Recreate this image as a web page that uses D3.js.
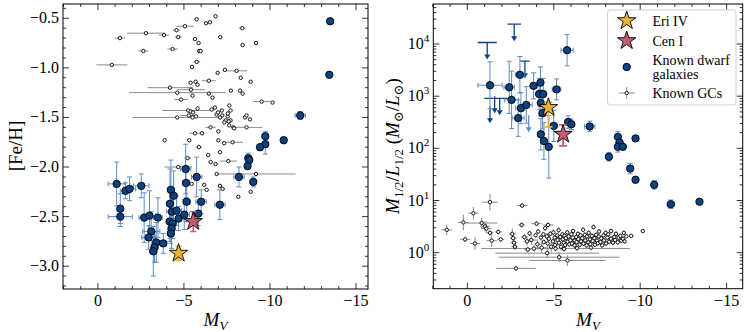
<!DOCTYPE html>
<html>
<head>
<meta charset="utf-8">
<script src="https://cdn.jsdelivr.net/npm/d3@7"></script>
<style>
  body { margin: 0; background: #fff; }
  svg text { font-family: "Liberation Serif", "DejaVu Serif", serif; fill: #000; }
</style>
</head>
<body>
<div id="chart"></div>
<script>
// ---- data ----
// left panel: [M_V, [Fe/H], xerr, yerr]
var dwarfFeH = [
  [-1.09, -2.17, 0.5, 0.22], [-1.60, -2.24, 0.3, 0.08], [-1.84, -2.22, 0.35, 0.12],
  [-2.52, -2.19, 0.45, 0.12], [-1.30, -2.42, 0.15, 0.15], [-1.30, -2.50, 0.7, 0.1],
  [-2.69, -2.51, 0.3, 0.25], [-3.00, -2.49, 0.35, 0.25], [-3.49, -2.51, 0.25, 0.2],
  [-3.10, -2.65, 0.5, 0.2], [-2.95, -2.71, 0.4, 0.12], [-3.39, -2.76, 0.2, 0.2],
  [-3.29, -2.81, 0.2, 0.15], [-3.22, -2.85, 0.2, 0.25], [-3.80, -2.77, 0.2, 0.1],
  [-4.24, -2.23, 0.2, 0.3], [-4.40, -2.29, 0.2, 0.25], [-4.19, -2.37, 0.2, 0.35],
  [-4.30, -2.45, 0.3, 0.2], [-4.57, -2.44, 0.3, 0.15], [-4.69, -2.52, 0.3, 0.12],
  [-5.02, -2.48, 0.3, 0.15], [-4.17, -2.55, 0.2, 0.2], [-4.34, -2.57, 0.2, 0.15],
  [-4.28, -2.62, 0.2, 0.2], [-4.24, -2.67, 0.2, 0.1], [-5.10, -2.02, 0.3, 0.25],
  [-5.12, -2.16, 0.2, 0.15], [-5.74, -2.10, 0.3, 0.2], [-5.16, -2.35, 0.2, 0.2],
  [-6.00, -2.35, 0.3, 0.12], [-5.83, -2.47, 0.2, 0.12], [-7.09, -2.38, 0.3, 0.15],
  [-8.20, -2.10, 0.3, 0.1], [-9.03, -2.15, 0.1, 0.05], [-8.74, -1.91, 0.1, 0.05],
  [-8.80, -1.93, 0.1, 0.03], [-8.70, -1.99, 0.1, 0.03], [-9.73, -1.69, 0.1, 0.05],
  [-9.73, -1.77, 0.1, 0.1], [-9.42, -1.80, 0.1, 0.03], [-10.8, -1.73, 0.1, 0.03],
  [-11.76, -1.48, 0.3, 0.04], [-13.45, -1.07, 0.05, 0.02], [-13.50, -0.53, 0.05, 0.02]
];

// left panel GCs: [M_V, [Fe/H], xerr]
var gcFeH = [
  [-1.28, -0.70, 0.3], [-2.79, -0.65, 1.1], [-3.84, -0.67, 0.3], [-2.64, -0.83, 0.3],
  [-4.34, -0.81, 0.3], [-0.81, -0.97, 0.9], [-4.57, -0.62, 0.2], [-4.67, -0.69, 0.2],
  [-5.06, -0.58, 0.5], [-5.74, -0.51, 0.1], [-5.64, -0.71, 0.1], [-5.85, -0.75, 0.1],
  [-5.89, -0.83, 0.1], [-5.74, -0.94, 0.2], [-5.47, -0.99, 0.1], [-5.39, -1.15, 0.1],
  [-5.68, -1.14, 0.1], [-5.79, -1.17, 0.1], [-4.19, -1.20, 1.3], [-4.61, -1.25, 2.8],
  [-5.41, -1.22, 0.8], [-4.84, -1.32, 0.4], [-5.25, -1.43, 1.5], [-5.39, -1.44, 0.2],
  [-5.79, -1.41, 0.1], [-4.61, -1.50, 2.6], [-5.29, -1.48, 0.5], [-5.50, -1.50, 0.2],
  [-5.64, -1.66, 0.3], [-3.88, -1.73, 0], [-5.31, -1.73, 0.1], [-5.87, -1.80, 0.2],
  [-5.21, -1.91, 0.2], [-4.67, -2.00, 0.8], [-6.28, -0.55, 0.1], [-6.51, -0.54, 0.1],
  [-6.84, -0.48, 0.1], [-8.39, -0.60, 0.2], [-7.11, -0.69, 0.1], [-5.97, -0.83, 0.1],
  [-8.41, -0.77, 0.1], [-9.19, -0.75, 0.1], [-6.96, -1.05, 0.1], [-7.38, -1.02, 0.1],
  [-8.06, -1.03, 0.6], [-8.30, -1.10, 0.1], [-8.88, -1.14, 0.1], [-6.45, -1.13, 0.4],
  [-7.73, -1.23, 0.1], [-8.26, -1.23, 0.1], [-8.41, -1.26, 0.1], [-6.45, -1.26, 0.1],
  [-6.66, -1.30, 0.1], [-9.52, -1.34, 0.5], [-10.15, -1.35, 0.1], [-7.64, -1.38, 0.1],
  [-6.61, -1.42, 0.1], [-6.80, -1.40, 0.1], [-7.71, -1.43, 0.1], [-6.90, -1.47, 0.1],
  [-7.23, -1.48, 0.1], [-7.54, -1.49, 0.1], [-7.42, -1.53, 0.1], [-7.71, -1.53, 0.1],
  [-8.55, -1.50, 0.1], [-8.64, -1.48, 0.1], [-8.84, -1.52, 0.1], [-7.63, -1.58, 0.1],
  [-7.87, -1.60, 0.1], [-8.64, -1.60, 0.9], [-6.55, -1.60, 0.3], [-6.05, -1.66, 0.1],
  [-7.00, -1.73, 0.1], [-7.34, -1.76, 0.1], [-7.83, -1.75, 0.6], [-7.09, -1.85, 0.1],
  [-6.41, -1.88, 0.1], [-6.55, -1.95, 0.1], [-6.84, -1.97, 0.1], [-7.58, -1.94, 0.5],
  [-6.90, -2.07, 0.1], [-9.19, -2.07, 2.3], [-5.45, -2.17, 0.1], [-6.18, -2.18, 0.1],
  [-6.32, -2.23, 0.1], [-7.09, -2.19, 0.1], [-7.25, -2.22, 0.1], [-8.16, -2.30, 0],
  [-8.88, -2.25, 0], [-7.35, -1.55, 0.1], [-7.55, -1.46, 0.1], [-7.10, -1.50, 0.1],
  [-6.98, -1.45, 0.1], [-7.20, -1.43, 0.1], [-7.60, -1.54, 0.1], [-5.53, -1.45, 0.1],
  [-5.70, -1.49, 0.1], [-7.00, -1.64, 0.1], [-7.92, -1.61, 0.1], [-5.50, -1.28, 0.1]
];

// right panel dwarfs: [M_V, M/L, xerr, yerr (dex)]
var dwarfML = [
  [-1.31, 1620, 0.7, 0.45], [-2.42, 1480, 0.3, 0.5], [-2.56, 850, 0.4, 0.55],
  [-3.04, 2570, 0.25, 0.35], [-3.10, 590, 0.3, 0.3], [-3.41, 680, 0.35, 0.35],
  [-2.94, 380, 0.35, 0.35], [-3.83, 1580, 0.2, 0.25], [-4.23, 1820, 0.15, 0.3],
  [-4.15, 1100, 0.1, 0.3], [-4.39, 1100, 0.1, 0.3], [-5.16, 1350, 0.25, 0.2],
  [-5.77, 7600, 0.35, 0.3], [-4.35, 470, 0.2, 0.3], [-4.25, 740, 0.15, 0.25],
  [-4.25, 186, 0.15, 0.3], [-4.43, 138, 0.15, 0.35], [-4.71, 107, 0.15, 0.6],
  [-5.00, 270, 0.2, 0.3], [-5.83, 320, 0.15, 0.12], [-6.02, 290, 0.15, 0.1],
  [-7.08, 263, 0.3, 0.1], [-8.71, 166, 0.1, 0.1], [-8.81, 129, 0.1, 0.1],
  [-8.71, 107, 0.1, 0.1], [-9.00, 107, 0.1, 0.05], [-9.73, 155, 0.05, 0.05],
  [-8.19, 69, 0.05, 0.08], [-9.42, 41, 0.05, 0.1], [-9.73, 25, 0.05, 0.05],
  [-10.81, 20, 0.05, 0.08], [-11.77, 8.5, 0.2, 0.08], [-13.43, 9.5, 0.05, 0.02]
];

// right panel upper limits: [M_V, M/L limit, xerr]
var dwarfLimits = [
  [-1.15, 10700, 0.55], [-2.71, 24000, 0.39], [-3.33, 4700, 0.28],
  [-1.87, 910, 0.89], [-1.58, 1000, 0], [-1.31, 640, 0], [-3.55, 430, 0]
];

// right panel GCs: [M_V, M/L, xerr, yerr (dex)]
var gcML = [
  [1.19, 2.74, 0.3, 0.1], [0.23, 3.8, 0.3, 0.15], [0.13, 1.8, 0.3, 0.05],
  [-0.35, 5.7, 0.3, 0.12], [-0.44, 1.5, 0.3, 0.12], [-1.31, 9.3, 0.45, 0.16],
  [-0.83, 3.7, 0.9, 0.1], [-1.02, 3.2, 0.3, 0.1], [-1.10, 2.9, 0.3, 0.1],
  [-1.31, 2.4, 0.2, 0.05], [-1.41, 1.7, 0.3, 0.12], [-1.79, 2.5, 0.2, 0.05],
  [-1.93, 1.8, 0.2, 0.05], [-3.17, 8.0, 0.3, 0.05], [-3.14, 3.4, 0.2, 0.05],
  [-2.60, 2.3, 0.2, 0.1], [-2.65, 1.9, 0.2, 0.08], [-2.70, 1.55, 0.2, 0.1],
  [-2.75, 1.3, 0.2, 0.06], [-4.00, 3.6, 0.3, 0.05], [-4.67, 3.4, 0.3, 0.05],
  [-2.81, 0.5, 1.15, 0.05], [-4.62, 0.98, 3.0, 0.1], [-5.31, 0.82, 3.5, 0.1],
  [-5.79, 0.71, 2.2, 0.1], [-5.10, 1.2, 4.3, 0.05], [-10.15, 2.6, 0, 0],
  [-9.48, 2.1, 0.1, 0.03], [-9.20, 2.05, 0.1, 0.03],
  [-3.30, 2.0, 0.2, 0.06], [-3.45, 1.65, 0.2, 0.08], [-3.60, 2.35, 0.1, 0.05], [-3.70, 1.75, 0.3, 0.1],
  [-3.95, 2.15, 0.1, 0.05], [-4.05, 1.45, 0.2, 0.1], [-4.10, 2.55, 0.1, 0.05], [-4.25, 1.95, 0.1, 0.06],
  [-4.30, 1.25, 0.3, 0.1], [-4.40, 2.25, 0.1, 0.05], [-4.42, 1.6, 0.1, 0.05], [-4.60, 2.05, 0.2, 0.06],
  [-4.50, 2.95, 0.1, 0.05], [-4.65, 1.5, 0.1, 0.08], [-4.72, 1.85, 0.1, 0.05], [-4.80, 2.3, 0.2, 0.05],
  [-4.85, 1.3, 0.1, 0.1], [-4.95, 1.65, 0.1, 0.05], [-4.98, 2.45, 0.1, 0.06], [-5.05, 1.95, 0.1, 0.05],
  [-5.08, 1.4, 0.2, 0.08], [-5.20, 2.15, 0.1, 0.05], [-5.22, 1.75, 0.1, 0.05], [-5.28, 2.7, 0.1, 0.06],
  [-5.30, 1.55, 0.1, 0.05], [-5.38, 2.0, 0.2, 0.05], [-5.42, 1.3, 0.1, 0.08], [-5.50, 2.25, 0.1, 0.05],
  [-5.52, 1.8, 0.1, 0.05], [-5.58, 1.55, 0.1, 0.06], [-5.62, 2.1, 0.1, 0.05], [-5.66, 1.4, 0.1, 0.05],
  [-5.70, 1.9, 0.1, 0.05], [-5.78, 2.45, 0.1, 0.05], [-5.80, 1.62, 0.1, 0.06], [-5.86, 2.05, 0.1, 0.05],
  [-5.90, 1.45, 0.1, 0.05], [-5.96, 1.72, 0.1, 0.05], [-6.02, 2.25, 0.1, 0.05], [-6.05, 1.5, 0.1, 0.06],
  [-6.10, 1.95, 0.1, 0.05], [-6.12, 2.6, 0.1, 0.05], [-6.20, 1.38, 0.1, 0.05], [-6.22, 1.7, 0.1, 0.05],
  [-6.30, 2.0, 0.1, 0.06], [-6.32, 1.6, 0.1, 0.05], [-6.40, 2.3, 0.1, 0.05], [-6.42, 1.82, 0.1, 0.05],
  [-6.50, 1.42, 0.1, 0.05], [-6.55, 2.15, 0.1, 0.05], [-6.58, 1.65, 0.1, 0.05], [-6.65, 1.9, 0.1, 0.05],
  [-6.70, 2.75, 0.1, 0.05], [-6.72, 1.5, 0.1, 0.05], [-6.80, 2.2, 0.1, 0.05], [-6.82, 1.72, 0.1, 0.05],
  [-6.90, 1.38, 0.1, 0.05], [-6.92, 2.05, 0.1, 0.05], [-7.00, 1.58, 0.1, 0.05], [-7.02, 2.4, 0.1, 0.05],
  [-7.10, 1.8, 0.1, 0.05], [-7.12, 1.45, 0.1, 0.05], [-7.20, 2.1, 0.1, 0.05], [-7.25, 1.68, 0.1, 0.05],
  [-7.30, 3.1, 0.1, 0.05], [-7.35, 1.9, 0.1, 0.05], [-7.38, 1.42, 0.1, 0.05], [-7.45, 2.2, 0.1, 0.05],
  [-7.50, 1.7, 0.1, 0.05], [-7.55, 1.52, 0.1, 0.05], [-7.60, 2.05, 0.1, 0.05], [-7.62, 2.55, 0.1, 0.05],
  [-7.70, 1.6, 0.1, 0.05], [-7.75, 1.88, 0.1, 0.05], [-7.80, 1.38, 0.1, 0.05], [-7.88, 2.15, 0.1, 0.05],
  [-7.90, 1.72, 0.1, 0.05], [-8.00, 2.4, 0.1, 0.05], [-8.02, 1.5, 0.1, 0.05], [-8.10, 1.95, 0.1, 0.05],
  [-8.15, 2.25, 0.1, 0.05], [-8.20, 1.62, 0.1, 0.05], [-8.30, 1.85, 0.1, 0.05], [-8.32, 2.6, 0.1, 0.05],
  [-8.42, 1.55, 0.1, 0.05], [-8.50, 2.0, 0.1, 0.05], [-8.55, 1.75, 0.1, 0.05], [-8.60, 2.3, 0.1, 0.05],
  [-8.70, 1.58, 0.1, 0.05], [-8.75, 1.95, 0.1, 0.05], [-8.85, 2.1, 0.1, 0.05], [-8.90, 1.7, 0.1, 0.05],
  [-9.00, 1.85, 0.1, 0.05], [-9.05, 2.4, 0.1, 0.05], [-9.10, 1.65, 0.1, 0.05], [-3.50, 1.15, 0.2, 0.06],
  [-3.85, 1.2, 0.2, 0.06], [-5.60, 1.18, 0.1, 0.05], [-6.35, 1.22, 0.1, 0.05], [-7.15, 1.25, 0.1, 0.05]
];

// new systems: name, M_V, [Fe/H], [Fe/H] err, M/L, M/L low, M/L high
var starNames = ["Eri IV", "Cen I"];
var starMV = [-4.69, -5.54];
var starFeH = [-2.87, -2.55];
var starFeHErr = [0.07, 0.1];
var starML = [605, 186];
var starMLlo = [257, 112];
var starMLhi = [760, 282];
var starColors = ["#ebb134", "#c75b72"];

var xTicks = [0, -5, -10, -15];
var fehTicks = [-0.5, -1.0, -1.5, -2.0, -2.5, -3.0];
var mlTicks = [1, 10, 100, 1000, 10000];

// ---- layout ----
var W = 747, H = 332;
var dwarfFill = "#0b4283", dwarfErr = "#5f8dc3", gcErr = "#8a8a8a";

var svg = d3.select("#chart").append("svg")
    .attr("width", W)
    .attr("height", H);

var xL = d3.scaleLinear().domain([2.03, -15.7]).range([63, 368]);
var yL = d3.scaleLinear().domain([-3.23, -0.356]).range([289, 4]);
var xR = d3.scaleLinear().domain([1.97, -15.93]).range([433.3, 742.7]);
var yR = d3.scaleLog().domain([0.204, 58500]).range([288.7, 4]);

var star = d3.symbol().type(d3.symbolStar).size(105);

function panel(id, x, y) {
    var g = svg.append("g");
    var r = { x0: x.range()[0], x1: x.range()[1], y0: y.range()[1], y1: y.range()[0] };
    g.append("clipPath").attr("id", id)
        .append("rect")
        .attr("x", r.x0).attr("y", r.y0)
        .attr("width", r.x1 - r.x0).attr("height", r.y1 - r.y0);
    var plot = g.append("g").attr("clip-path", "url(#" + id + ")");
    return { g: g, plot: plot, r: r };
}

// error bars with optional caps
function errbar(g, x1, y1, x2, y2, color, cap, width) {
    g.append("line")
        .attr("x1", x1).attr("y1", y1).attr("x2", x2).attr("y2", y2)
        .attr("stroke", color).attr("stroke-width", width || 1);
    if (cap) {
        if (y1 === y2) {
            [x1, x2].forEach(function (xx) {
                g.append("line").attr("x1", xx).attr("x2", xx)
                    .attr("y1", y1 - cap).attr("y2", y1 + cap)
                    .attr("stroke", color).attr("stroke-width", width || 1);
            });
        } else {
            [y1, y2].forEach(function (yy) {
                g.append("line").attr("y1", yy).attr("y2", yy)
                    .attr("x1", x1 - cap).attr("x2", x1 + cap)
                    .attr("stroke", color).attr("stroke-width", width || 1);
            });
        }
    }
}

function frame(p, x, y, opts) {
    var g = p.g, r = p.r;
    function tick(x1, y1, x2, y2) {
        g.append("line").attr("x1", x1).attr("y1", y1).attr("x2", x2).attr("y2", y2)
            .attr("stroke", "#000").attr("stroke-width", 0.8);
    }
    // x ticks, both top and bottom, pointing in
    opts.xMinor.forEach(function (v) {
        tick(x(v), r.y1, x(v), r.y1 - 3); tick(x(v), r.y0, x(v), r.y0 + 3);
    });
    xTicks.forEach(function (v) {
        tick(x(v), r.y1, x(v), r.y1 - 6); tick(x(v), r.y0, x(v), r.y0 + 6);
        g.append("text").attr("x", x(v)).attr("y", r.y1 + 17)
            .attr("text-anchor", "middle").attr("font-size", 16)
            .text(d3.format("d")(v));
    });
    opts.yMinor.forEach(function (v) {
        tick(r.x0, y(v), r.x0 + 3, y(v)); tick(r.x1, y(v), r.x1 - 3, y(v));
    });
    opts.yTicks.forEach(function (v) {
        tick(r.x0, y(v), r.x0 + 6, y(v)); tick(r.x1, y(v), r.x1 - 6, y(v));
        opts.yLabel(g.append("text").attr("x", r.x0 - 4).attr("y", y(v) + 5)
            .attr("text-anchor", "end").attr("font-size", 16), v);
    });
    g.append("rect")
        .attr("x", r.x0).attr("y", r.y0)
        .attr("width", r.x1 - r.x0).attr("height", r.y1 - r.y0)
        .attr("fill", "none").attr("stroke", "#000").attr("stroke-width", 1);
    // M_V label
    var t = g.append("text").attr("x", (r.x0 + r.x1) / 2).attr("y", 326)
        .attr("text-anchor", "middle").attr("font-size", 19);
    t.append("tspan").attr("font-style", "italic").text("M");
    t.append("tspan").attr("font-style", "italic").attr("font-size", 13).attr("dy", 4).text("V");
}

var xMinor = d3.range(-15, 2.5, 1).filter(function (v) { return v % 5 !== 0; });

// ---------------- left panel ----------------
var pL = panel("clipL", xL, yL);

gcFeH.forEach(function (d) {
    if (d[2] > 0) errbar(pL.plot, xL(d[0] - d[2]), yL(d[1]), xL(d[0] + d[2]), yL(d[1]), gcErr, 0, 1);
});
pL.plot.selectAll(".gcL").data(gcFeH).enter().append("circle")
    .attr("class", "gcL")
    .attr("cx", function (d) { return xL(d[0]); })
    .attr("cy", function (d) { return yL(d[1]); })
    .attr("r", 1.7).attr("fill", "#fff").attr("stroke", "#000").attr("stroke-width", 0.9);

dwarfFeH.forEach(function (d) {
    errbar(pL.plot, xL(d[0] - d[2]), yL(d[1]), xL(d[0] + d[2]), yL(d[1]), dwarfErr, 2.5);
    errbar(pL.plot, xL(d[0]), yL(d[1] - d[3]), xL(d[0]), yL(d[1] + d[3]), dwarfErr, 2.5);
});
pL.plot.selectAll(".dwL").data(dwarfFeH).enter().append("circle")
    .attr("class", "dwL")
    .attr("cx", function (d) { return xL(d[0]); })
    .attr("cy", function (d) { return yL(d[1]); })
    .attr("r", 3.7).attr("fill", dwarfFill).attr("stroke", "#000").attr("stroke-width", 0.9);

starMV.forEach(function (mv, i) {
    errbar(pL.plot, xL(mv), yL(starFeH[i] - starFeHErr[i]), xL(mv), yL(starFeH[i] + starFeHErr[i]), starColors[i], 3, 1.5);
    pL.plot.append("path").attr("d", star)
        .attr("transform", "translate(" + xL(mv) + "," + yL(starFeH[i]) + ")")
        .attr("fill", starColors[i]).attr("stroke", "#000").attr("stroke-width", 0.9);
});

frame(pL, xL, yL, {
    xMinor: xMinor,
    yTicks: fehTicks,
    yMinor: d3.range(-32, -3, 1).map(function (v) { return v / 10; })
        .filter(function (v) { return Math.round(v * 10) % 5 !== 0; }),
    yLabel: function (t, v) { t.text(d3.format(".1f")(v)); }
});

svg.append("text")
    .attr("transform", "translate(22,146) rotate(-90)")
    .attr("text-anchor", "middle").attr("font-size", 19)
    .text("[Fe/H]");

// ---------------- right panel ----------------
var pR = panel("clipR", xR, yR);

gcML.forEach(function (d) {
    if (d[2] > 0) errbar(pR.plot, xR(d[0] - d[2]), yR(d[1]), xR(d[0] + d[2]), yR(d[1]), gcErr, 0, 1);
    if (d[3] > 0) errbar(pR.plot, xR(d[0]), yR(d[1] / Math.pow(10, d[3])), xR(d[0]), yR(d[1] * Math.pow(10, d[3])), gcErr, 0, 1);
});
pR.plot.selectAll(".gcR").data(gcML).enter().append("circle")
    .attr("class", "gcR")
    .attr("cx", function (d) { return xR(d[0]); })
    .attr("cy", function (d) { return yR(d[1]); })
    .attr("r", 1.7).attr("fill", "#fff").attr("stroke", "#000").attr("stroke-width", 0.9);

// upper limits: cap line + arrow downward
dwarfLimits.forEach(function (d, i) {
    var col = i === dwarfLimits.length - 1 ? dwarfErr : dwarfFill;
    var cx = xR(d[0]), cy = yR(d[1]);
    if (d[2] > 0) errbar(pR.plot, xR(d[0] - d[2]), cy, xR(d[0] + d[2]), cy, col, 0, 1.3);
    pR.plot.append("line").attr("x1", cx).attr("x2", cx).attr("y1", cy).attr("y2", cy + 14)
        .attr("stroke", col).attr("stroke-width", 1.3);
    pR.plot.append("path")
        .attr("d", "M" + (cx - 3) + "," + (cy + 12) + "L" + (cx + 3) + "," + (cy + 12) + "L" + cx + "," + (cy + 17) + "Z")
        .attr("fill", col);
});

dwarfML.forEach(function (d) {
    errbar(pR.plot, xR(d[0] - d[2]), yR(d[1]), xR(d[0] + d[2]), yR(d[1]), dwarfErr, 2.5);
    errbar(pR.plot, xR(d[0]), yR(d[1] / Math.pow(10, d[3])), xR(d[0]), yR(d[1] * Math.pow(10, d[3])), dwarfErr, 2.5);
});
pR.plot.selectAll(".dwR").data(dwarfML).enter().append("circle")
    .attr("class", "dwR")
    .attr("cx", function (d) { return xR(d[0]); })
    .attr("cy", function (d) { return yR(d[1]); })
    .attr("r", 3.7).attr("fill", dwarfFill).attr("stroke", "#000").attr("stroke-width", 0.9);

starMV.forEach(function (mv, i) {
    errbar(pR.plot, xR(mv), yR(starMLlo[i]), xR(mv), yR(starMLhi[i]), starColors[i], 4, 1.8);
    pR.plot.append("path").attr("d", star)
        .attr("transform", "translate(" + xR(mv) + "," + yR(starML[i]) + ")")
        .attr("fill", starColors[i]).attr("stroke", "#000").attr("stroke-width", 0.9);
});

var logMinor = [];
[0.1, 1, 10, 100, 1000, 10000].forEach(function (b) {
    for (var m = 2; m <= 9; m++) {
        var v = b * m;
        if (v > yR.domain()[0] && v < yR.domain()[1]) logMinor.push(v);
    }
});

frame(pR, xR, yR, {
    xMinor: xMinor,
    yTicks: mlTicks,
    yMinor: logMinor,
    yLabel: function (t, v) {
        t.append("tspan").text("10");
        t.append("tspan").attr("font-size", 11).attr("dy", -7).text(Math.round(Math.log10(v)));
    }
});

var yl = svg.append("text")
    .attr("transform", "translate(399,146) rotate(-90)")
    .attr("text-anchor", "middle").attr("font-size", 19);
yl.append("tspan").attr("font-style", "italic").text("M");
yl.append("tspan").attr("font-size", 13).attr("dy", 4).text("1/2");
yl.append("tspan").attr("dy", -4).text("/");
yl.append("tspan").attr("font-style", "italic").text("L");
yl.append("tspan").attr("font-size", 13).attr("dy", 4).text("1/2");
yl.append("tspan").attr("dy", -4).text(" (");
yl.append("tspan").attr("font-style", "italic").text("M");
yl.append("tspan").attr("font-size", 13).attr("dy", 4).text("\u2299");
yl.append("tspan").attr("dy", -4).text("/");
yl.append("tspan").attr("font-style", "italic").text("L");
yl.append("tspan").attr("font-size", 13).attr("dy", 4).text("\u2299");
yl.append("tspan").attr("dy", -4).text(")");

// ---------------- legend ----------------
var lg = svg.append("g");
lg.append("rect").attr("x", 607.5).attr("y", 10).attr("width", 128.5).attr("height", 95)
    .attr("rx", 3).attr("fill", "#fff").attr("fill-opacity", 0.85)
    .attr("stroke", "#d0d0d0").attr("stroke-width", 1);
var lx = 626.7, tx = 652.5;
starNames.forEach(function (n, i) {
    var yy = 20.7 + i * 20;
    lg.append("path").attr("d", star).attr("transform", "translate(" + lx + "," + yy + ")")
        .attr("fill", starColors[i]).attr("stroke", "#000").attr("stroke-width", 0.9);
    lg.append("text").attr("x", tx).attr("y", yy + 5).attr("font-size", 14).text(n);
});
lg.append("circle").attr("cx", lx).attr("cy", 67).attr("r", 3.7)
    .attr("fill", dwarfFill).attr("stroke", "#000").attr("stroke-width", 0.9);
lg.append("text").attr("x", tx).attr("y", 64.5).attr("font-size", 14).text("Known dwarf");
lg.append("text").attr("x", tx).attr("y", 78.5).attr("font-size", 14).text("galaxies");
errbar(lg, lx - 8, 93, lx + 8, 93, gcErr, 0, 1);
errbar(lg, lx, 87, lx, 99, gcErr, 0, 1);
lg.append("circle").attr("cx", lx).attr("cy", 93).attr("r", 1.7)
    .attr("fill", "#fff").attr("stroke", "#000").attr("stroke-width", 0.9);
lg.append("text").attr("x", tx).attr("y", 98).attr("font-size", 14).text("Known GCs");
</script>
</body>
</html>
